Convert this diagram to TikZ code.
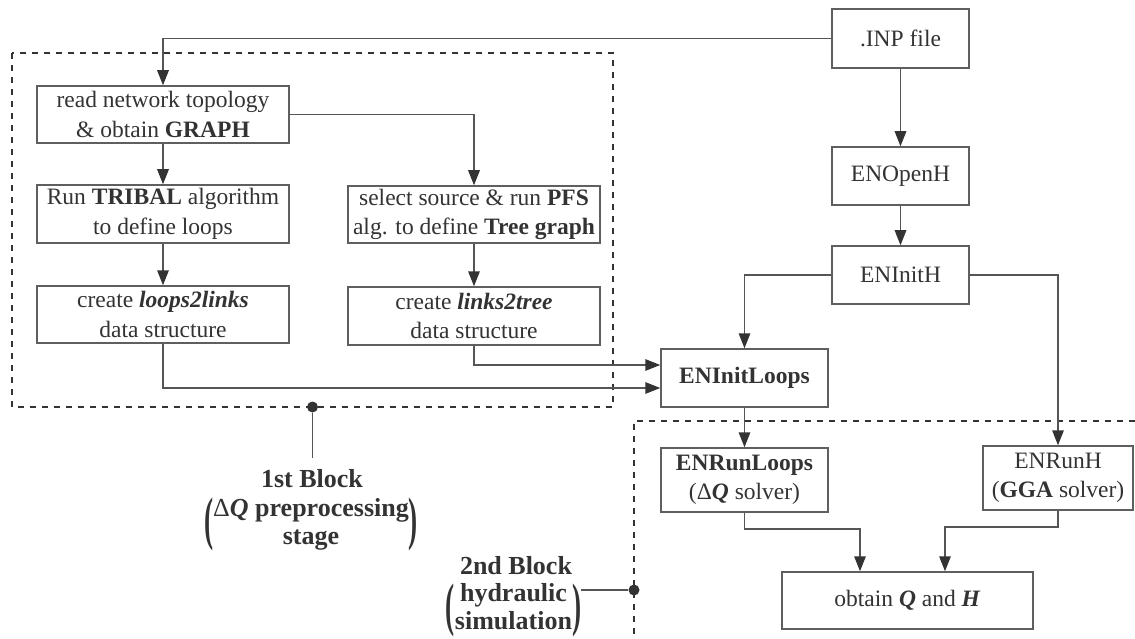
\documentclass[tikz,border=0pt]{standalone}
\usepackage{fontspec}
\setmainfont{Liberation Serif}
\usetikzlibrary{arrows.meta,calc}
\definecolor{ink}{RGB}{51,51,51}
\definecolor{wirec}{RGB}{85,85,85}
\definecolor{framec}{RGB}{95,95,95}

% tall bold parenthesis, centred on the math axis
\newcommand{\tallparen}[1]{\vcenter{\hbox{\scalebox{1.05}[2.25]{\bfseries #1}}}}

\begin{document}
\begin{tikzpicture}[x=1pt,y=-1pt,
  box/.style={draw=framec, line width=1.5pt, fill=white, text=ink, inner sep=0pt,
              align=center, font=\fontsize{23.5}{29.5}\selectfont},
  arr/.style={draw=wirec, line width=1.5pt, -{Triangle[length=15pt,width=11.5pt,color=ink]}},
  wire/.style={draw=wirec, line width=1.5pt},
  blockframe/.style={draw=ink, line width=2.2pt, dash pattern=on 6pt off 6pt},
  dot/.style={circle, fill=ink, inner sep=0pt, minimum size=11pt},
  lab/.style={text=ink, inner sep=0pt, align=center,
              font=\fontsize{26}{28}\selectfont\bfseries}]

\useasboundingbox (0,0) rectangle (1135,639);

% dashed frames of the two blocks
\draw[blockframe] (12,53) rectangle (613,407);
\draw[blockframe] (1135,421) -- (634,421) -- (634,639);

% right column: EPANET calls
\node[box, minimum width=137pt, minimum height=59pt] (inp)   at (900.5,38.5) {.INP file};
\node[box, minimum width=137pt, minimum height=58pt] (openh) at (900.5,176) {ENOpenH};
\node[box, minimum width=137pt, minimum height=58pt] (inith) at (900.5,275) {ENInitH};
\node[box, minimum width=167pt, minimum height=58pt] (initloops) at (744.5,378) {\textbf{ENInitLoops}};

% first block: preprocessing
\node[box, minimum width=252pt, minimum height=57pt] (read)   at (163,114.5) {read network topology\\\& obtain \textbf{GRAPH}};
\node[box, minimum width=252pt, minimum height=58pt] (tribal) at (163,214) {Run \textbf{TRIBAL} algorithm\\to define loops};
\node[box, minimum width=252pt, minimum height=57pt] (l2l)    at (163,314.5) {create \textbf{\textit{loops2links}}\\data structure};
\node[box, minimum width=252pt, minimum height=57pt] (pfs)    at (474,214.5) {select source \& run \textbf{PFS}\\alg. to define \textbf{Tree graph}};
\node[box, minimum width=252pt, minimum height=58pt] (l2t)    at (474,316) {create \textbf{\textit{links2tree}}\\data structure};

% second block: hydraulic simulation
\node[box, minimum width=167pt, minimum height=64pt] (runloops) at (744.5,480) {\textbf{ENRunLoops}\\(Δ\textbf{\textit{Q}} solver)};
\node[box, minimum width=150pt, minimum height=64pt] (runh)     at (1058,478) {ENRunH\\(\textbf{GGA} solver)};
\node[box, minimum width=251pt, minimum height=57pt] (obtain)   at (907.5,600.5) {obtain \textbf{\textit{Q}} and \textbf{\textit{H}}};

% connectors
\draw[arr] (inp.west) -| (read.north);
\draw[arr] (read.south) -- (tribal.north);
\draw[arr] (tribal.south) -- (l2l.north);
\draw[arr] (read.east) -| (pfs.north);
\draw[arr] (pfs.south) -- (l2t.north);
\draw[arr] (l2t.south) |- ([yshift=13pt]initloops.west);
\draw[arr] (l2l.south) |- ([yshift=-10pt]initloops.west);
\draw[arr] (inp.south) -- (openh.north);
\draw[arr] (openh.south) -- (inith.north);
\draw[arr] (inith.west) -| (initloops.north);
\draw[arr] (inith.east) -| (runh.north);
\draw[arr] (initloops.south) -- (runloops.north);
\draw[arr] (runloops.south) -- ++(0,16) -| ([xshift=-47.5pt]obtain.north);
\draw[arr] (runh.south) -- ++(0,16) -| ([xshift=37.5pt]obtain.north);

% block labels
\node[dot] (dot1) at (312.5,407) {};
\coordinate (d1end) at (312.5,458);
\draw[wire] (dot1) -- (d1end);
\node[lab] (lab1) at (312,479) {1st Block};
\node[lab] (lab1b) at (311,524.5)
  {$\tallparen{(}\begin{tabular}{@{}c@{}}{\mdseries Δ}\textit{Q} preprocessing\\stage\end{tabular}\tallparen{)}$};

\node[dot] (dot2) at (634,590) {};
\node[lab] (lab2) at (516,566) {2nd Block};
\node[lab] (lab2b) at (513.5,610)
  {$\tallparen{(}\begin{tabular}{@{}c@{}}hydraulic\\simulation\end{tabular}\tallparen{)}$};
\draw[wire] (dot2) -- (lab2b.east |- dot2);
\end{tikzpicture}
\end{document}
